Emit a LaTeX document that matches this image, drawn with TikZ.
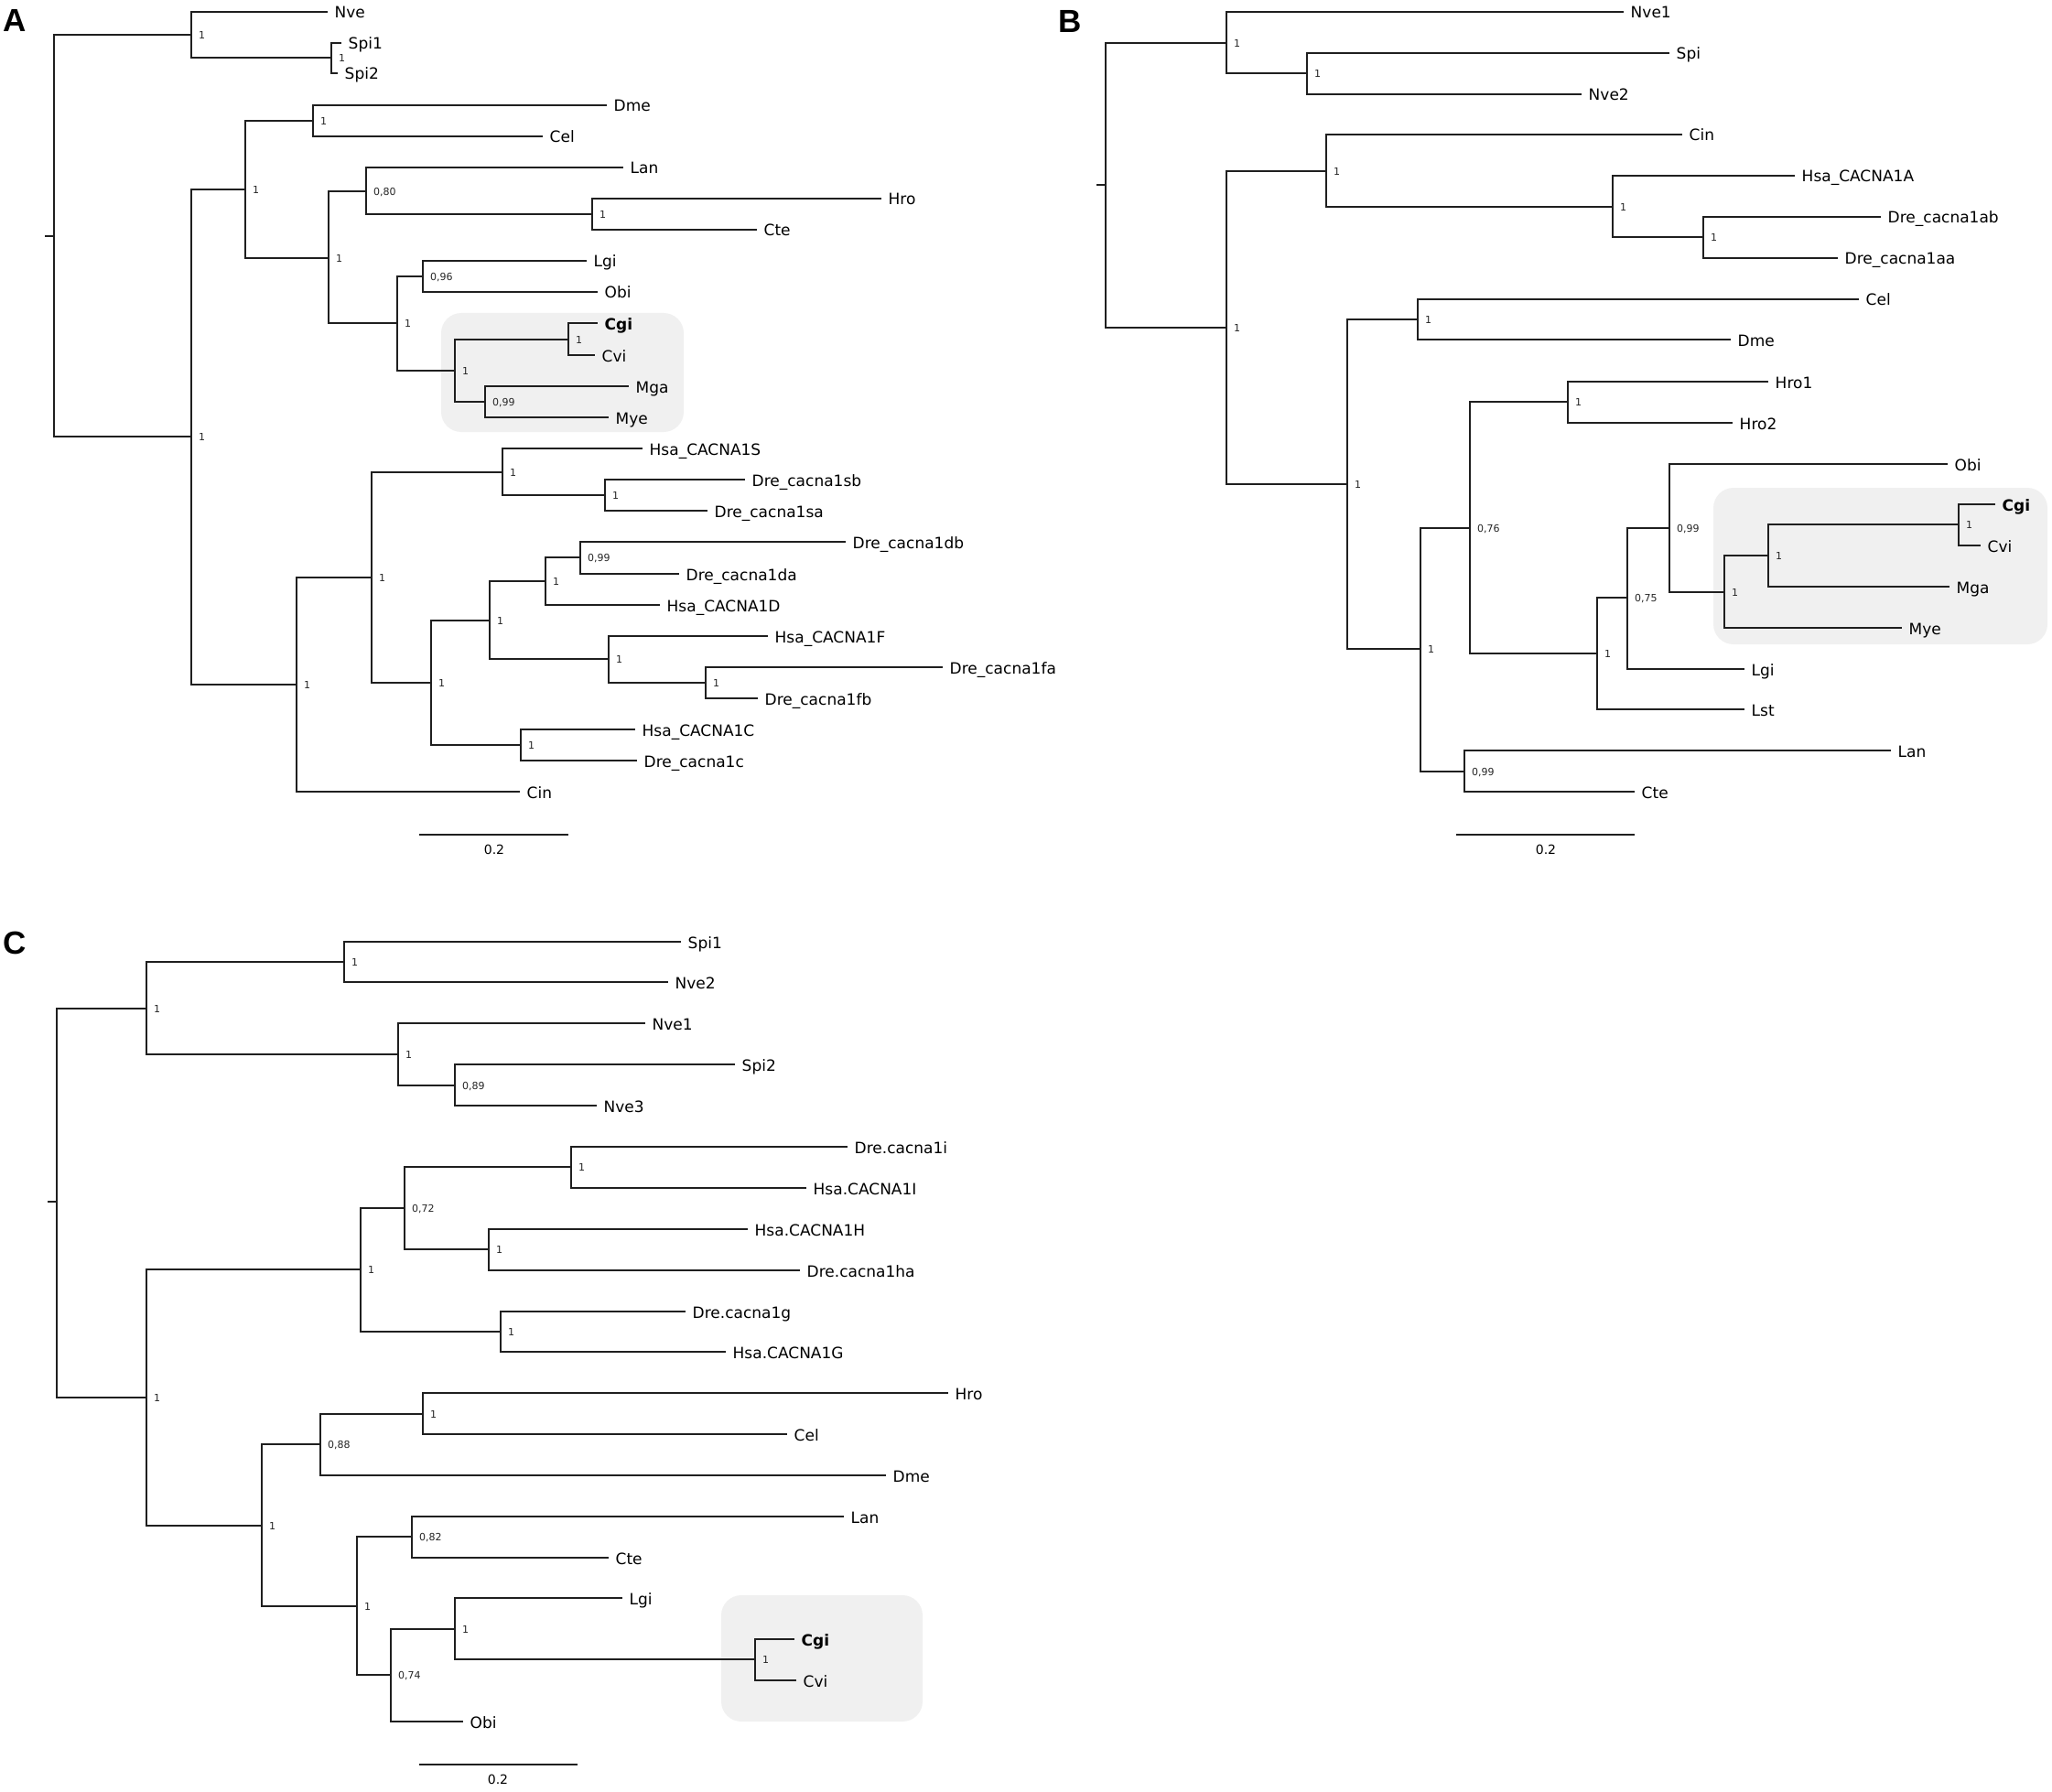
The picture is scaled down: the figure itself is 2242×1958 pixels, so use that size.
\documentclass[tikz,border=0pt]{standalone}
\usepackage{fontspec}
\setmainfont{DejaVu Sans}
\newfontfamily\panelfont{Liberation Sans}
\tikzset{
  edge/.style={line width=1.8pt, draw=black!88},
  tiplab/.style={anchor=base west, inner sep=0pt, font=\fontsize{17}{20}\selectfont},
  suplab/.style={anchor=base west, inner sep=0pt, font=\fontsize{11}{13}\selectfont, text=black!85},
  scalelab/.style={anchor=center, inner sep=0pt, font=\fontsize{14}{16}\selectfont},
  panellab/.style={anchor=base west, inner sep=0pt, font=\fontsize{35}{40}\panelfont\bfseries},
  cladebox/.style={fill=black!6, draw=none, rounded corners=22pt}
}
\newcommand\tx[4]{\coordinate (#1) at (#2,#3); \node[tiplab] (#1l) at ([xshift=7.5pt,yshift=-7pt]#1) {#4};}
\newcommand\ix[4]{\coordinate (#1) at (#2,#3); \node[suplab] (#1s) at ([xshift=8pt,yshift=-4.5pt]#1) {#4};}
\newcommand\br[2]{\draw[edge] (#1) |- (#2);}
\begin{document}
\begin{tikzpicture}[x=1pt,y=-1pt]
\useasboundingbox (0,0) rectangle (2242,1958);
\fill[white] (0,0) rectangle (2242,1958);

% ---------- clade boxes ----------
\fill[cladebox] (482,342) rectangle (747,472);
\fill[cladebox] (1872,533) rectangle (2237,704);
\fill[cladebox] (788,1743) rectangle (1008,1881);

% ---------- panel letters ----------
\node[panellab] (pA) at (3,35) {A};
\node[panellab] (pB) at (1156,36) {B};
\node[panellab] (pC) at (3,1042) {C};

% ================= PANEL A =================
\coordinate (aR) at (59,258); \coordinate (aT) at (49,258);
\draw[edge] (aT) -- (aR);
\ix{a1}{209}{38}{1}
\ix{a2}{209}{477}{1}
\tx{aNve}{358}{13}{Nve}
\ix{aSp}{362}{63}{1}
\tx{aSpi1}{373}{47}{Spi1}
\tx{aSpi2}{369}{80}{Spi2}
\ix{a3}{268}{207}{1}
\ix{a4}{342}{132}{1}
\tx{aDme}{663}{115}{Dme}
\tx{aCel}{593}{149}{Cel}
\ix{a5}{359}{282}{1}
\ix{a6}{400}{209}{0,80}
\tx{aLan}{681}{183}{Lan}
\ix{aHC}{647}{234}{1}
\tx{aHro}{963}{217}{Hro}
\tx{aCte}{827}{251}{Cte}
\ix{a7}{434}{353}{1}
\ix{a8}{462}{302}{0,96}
\tx{aLgi}{641}{285}{Lgi}
\tx{aObi}{653}{319}{Obi}
\ix{a9}{497}{405}{1}
\ix{aCC}{621}{371}{1}
\tx{aCgi}{653}{353}{\textbf{Cgi}}
\tx{aCvi}{650}{388}{Cvi}
\ix{a10}{530}{439}{0,99}
\tx{aMga}{687}{422}{Mga}
\tx{aMye}{665}{456}{Mye}
\ix{a11}{324}{748}{1}
\tx{aCin}{568}{865}{Cin}
\ix{a12}{406}{631}{1}
\ix{a13}{549}{516}{1}
\tx{aS}{702}{490}{Hsa\_CACNA1S}
\ix{a14}{661}{541}{1}
\tx{aSb}{814}{524}{Dre\_cacna1sb}
\tx{aSa}{773}{558}{Dre\_cacna1sa}
\ix{a15}{471}{746}{1}
\ix{a16}{535}{678}{1}
\ix{a17}{596}{635}{1}
\ix{a18}{634}{609}{0,99}
\tx{aDb}{924}{592}{Dre\_cacna1db}
\tx{aDa}{742}{627}{Dre\_cacna1da}
\tx{aD}{721}{661}{Hsa\_CACNA1D}
\ix{a19}{665}{720}{1}
\tx{aF}{839}{695}{Hsa\_CACNA1F}
\ix{a20}{771}{746}{1}
\tx{aFa}{1030}{729}{Dre\_cacna1fa}
\tx{aFb}{828}{763}{Dre\_cacna1fb}
\ix{a21}{569}{814}{1}
\tx{aC}{694}{797}{Hsa\_CACNA1C}
\tx{aCc}{696}{831}{Dre\_cacna1c}

\br{aR}{a1} \br{aR}{a2}
\br{a1}{aNve} \br{a1}{aSp}
\br{aSp}{aSpi1} \br{aSp}{aSpi2}
\br{a2}{a3} \br{a2}{a11}
\br{a3}{a4} \br{a3}{a5}
\br{a4}{aDme} \br{a4}{aCel}
\br{a5}{a6} \br{a5}{a7}
\br{a6}{aLan} \br{a6}{aHC}
\br{aHC}{aHro} \br{aHC}{aCte}
\br{a7}{a8} \br{a7}{a9}
\br{a8}{aLgi} \br{a8}{aObi}
\br{a9}{aCC} \br{a9}{a10}
\br{aCC}{aCgi} \br{aCC}{aCvi}
\br{a10}{aMga} \br{a10}{aMye}
\br{a11}{a12} \br{a11}{aCin}
\br{a12}{a13} \br{a12}{a15}
\br{a13}{aS} \br{a13}{a14}
\br{a14}{aSb} \br{a14}{aSa}
\br{a15}{a16} \br{a15}{a21}
\br{a16}{a17} \br{a16}{a19}
\br{a17}{a18} \br{a17}{aD}
\br{a18}{aDb} \br{a18}{aDa}
\br{a19}{aF} \br{a19}{a20}
\br{a20}{aFa} \br{a20}{aFb}
\br{a21}{aC} \br{a21}{aCc}

\coordinate (aS1) at (458,912); \coordinate (aS2) at (621,912);
\draw[edge] (aS1) -- (aS2);
\node[scalelab] (aSl) at (540,928.5) {0.2};

% ================= PANEL B =================
\coordinate (bR) at (1208,202); \coordinate (bT) at (1198,202);
\draw[edge] (bT) -- (bR);
\ix{b1}{1340}{47}{1}
\tx{bNve1}{1774}{13}{Nve1}
\ix{b2}{1428}{80}{1}
\tx{bSpi}{1824}{58}{Spi}
\tx{bNve2}{1728}{103}{Nve2}
\ix{b3}{1340}{358}{1}
\ix{b4}{1449}{187}{1}
\tx{bCin}{1838}{147}{Cin}
\ix{b5}{1762}{226}{1}
\tx{bA}{1961}{192}{Hsa\_CACNA1A}
\ix{b6}{1861}{259}{1}
\tx{bAb}{2055}{237}{Dre\_cacna1ab}
\tx{bAa}{2008}{282}{Dre\_cacna1aa}
\ix{b7}{1472}{529}{1}
\ix{b8}{1549}{349}{1}
\tx{bCel}{2031}{327}{Cel}
\tx{bDme}{1891}{371}{Dme}
\ix{b9}{1552}{709}{1}
\ix{b10}{1606}{577}{0,76}
\ix{b11}{1713}{439}{1}
\tx{bHro1}{1932}{417}{Hro1}
\tx{bHro2}{1893}{462}{Hro2}
\ix{b12}{1745}{714}{1}
\ix{b13}{1778}{653}{0,75}
\ix{b14}{1824}{577}{0,99}
\tx{bObi}{2128}{507}{Obi}
\ix{b15}{1884}{647}{1}
\ix{b16}{1932}{607}{1}
\ix{b17}{2140}{573}{1}
\tx{bCgi}{2180}{551}{\textbf{Cgi}}
\tx{bCvi}{2164}{596}{Cvi}
\tx{bMga}{2130}{641}{Mga}
\tx{bMye}{2078}{686}{Mye}
\tx{bLgi}{1906}{731}{Lgi}
\tx{bLst}{1906}{775}{Lst}
\ix{b18}{1600}{843}{0,99}
\tx{bLan}{2066}{820}{Lan}
\tx{bCte}{1786}{865}{Cte}

\br{bR}{b1} \br{bR}{b3}
\br{b1}{bNve1} \br{b1}{b2}
\br{b2}{bSpi} \br{b2}{bNve2}
\br{b3}{b4} \br{b3}{b7}
\br{b4}{bCin} \br{b4}{b5}
\br{b5}{bA} \br{b5}{b6}
\br{b6}{bAb} \br{b6}{bAa}
\br{b7}{b8} \br{b7}{b9}
\br{b8}{bCel} \br{b8}{bDme}
\br{b9}{b10} \br{b9}{b18}
\br{b10}{b11} \br{b10}{b12}
\br{b11}{bHro1} \br{b11}{bHro2}
\br{b12}{b13} \br{b12}{bLst}
\br{b13}{b14} \br{b13}{bLgi}
\br{b14}{bObi} \br{b14}{b15}
\br{b15}{b16} \br{b15}{bMye}
\br{b16}{b17} \br{b16}{bMga}
\br{b17}{bCgi} \br{b17}{bCvi}
\br{b18}{bLan} \br{b18}{bCte}

\coordinate (bS1) at (1591,912); \coordinate (bS2) at (1786,912);
\draw[edge] (bS1) -- (bS2);
\node[scalelab] (bSl) at (1689,928.5) {0.2};

% ================= PANEL C =================
\coordinate (cR) at (62,1313); \coordinate (cT) at (52,1313);
\draw[edge] (cT) -- (cR);
\ix{c1}{160}{1102}{1}
\ix{c2}{376}{1051}{1}
\tx{cSpi1}{744}{1029}{Spi1}
\tx{cNve2}{730}{1073}{Nve2}
\ix{c3}{435}{1152}{1}
\tx{cNve1}{705}{1118}{Nve1}
\ix{c4}{497}{1186}{0,89}
\tx{cSpi2}{803}{1163}{Spi2}
\tx{cNve3}{652}{1208}{Nve3}
\ix{c5}{160}{1527}{1}
\ix{c6}{394}{1387}{1}
\ix{c7}{442}{1320}{0,72}
\ix{c8}{624}{1275}{1}
\tx{cIa}{926}{1253}{Dre.cacna1i}
\tx{cIb}{881}{1298}{Hsa.CACNA1I}
\ix{c9}{534}{1365}{1}
\tx{cH}{817}{1343}{Hsa.CACNA1H}
\tx{cHa}{874}{1388}{Dre.cacna1ha}
\ix{c10}{547}{1455}{1}
\tx{cg}{749}{1433}{Dre.cacna1g}
\tx{cG}{793}{1477}{Hsa.CACNA1G}
\ix{c11}{286}{1667}{1}
\ix{c12}{350}{1578}{0,88}
\ix{c13}{462}{1545}{1}
\tx{cHro}{1036}{1522}{Hro}
\tx{cCel}{860}{1567}{Cel}
\tx{cDme}{968}{1612}{Dme}
\ix{c14}{390}{1755}{1}
\ix{c15}{450}{1679}{0,82}
\tx{cLan}{922}{1657}{Lan}
\tx{cCte}{665}{1702}{Cte}
\ix{c16}{427}{1830}{0,74}
\ix{c17}{497}{1780}{1}
\tx{cLgi}{680}{1746}{Lgi}
\ix{c18}{825}{1813}{1}
\tx{cCgi}{868}{1791}{\textbf{Cgi}}
\tx{cCvi}{870}{1836}{Cvi}
\tx{cObi}{506}{1881}{Obi}

\br{cR}{c1} \br{cR}{c5}
\br{c1}{c2} \br{c1}{c3}
\br{c2}{cSpi1} \br{c2}{cNve2}
\br{c3}{cNve1} \br{c3}{c4}
\br{c4}{cSpi2} \br{c4}{cNve3}
\br{c5}{c6} \br{c5}{c11}
\br{c6}{c7} \br{c6}{c10}
\br{c7}{c8} \br{c7}{c9}
\br{c8}{cIa} \br{c8}{cIb}
\br{c9}{cH} \br{c9}{cHa}
\br{c10}{cg} \br{c10}{cG}
\br{c11}{c12} \br{c11}{c14}
\br{c12}{c13} \br{c12}{cDme}
\br{c13}{cHro} \br{c13}{cCel}
\br{c14}{c15} \br{c14}{c16}
\br{c15}{cLan} \br{c15}{cCte}
\br{c16}{c17} \br{c16}{cObi}
\br{c17}{cLgi} \br{c17}{c18}
\br{c18}{cCgi} \br{c18}{cCvi}

\coordinate (cS1) at (458,1928); \coordinate (cS2) at (631,1928);
\draw[edge] (cS1) -- (cS2);
\node[scalelab] (cSl) at (544,1944.5) {0.2};
\end{tikzpicture}
\end{document}
